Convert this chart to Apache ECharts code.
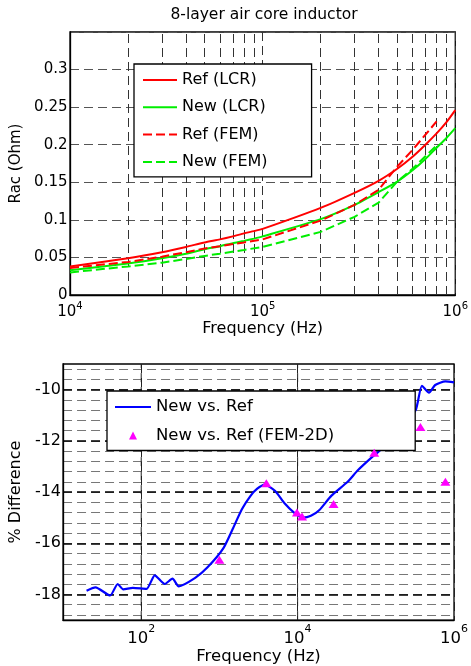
<!DOCTYPE html>
<html>
<head>
<meta charset="utf-8">
<script src="https://cdn.jsdelivr.net/npm/echarts@6/dist/echarts.min.js"></script>
<style>
html, body { margin: 0; padding: 0; background: #fff; }
#chart { width: 471px; height: 666px; }
</style>
</head>
<body>
<div id="chart"></div>
<script>
// ---- Upper panel: AC resistance of the 8-layer air core inductor ----
const freqLCR = [1e4, 2e4, 3e4, 4e4, 5e4, 6e4, 7e4, 8e4, 9e4, 1e5, 2e5, 3e5, 4e5, 5e5, 6e5, 7e5, 8e5, 9e5, 1e6];
const refLCR  = [0.038, 0.049, 0.057, 0.064, 0.070, 0.074, 0.078, 0.082, 0.085, 0.088, 0.116, 0.136, 0.152, 0.168, 0.184, 0.200, 0.215, 0.230, 0.246];
const newLCR  = [0.033, 0.042, 0.049, 0.055, 0.061, 0.065, 0.069, 0.072, 0.075, 0.078, 0.101, 0.120, 0.137, 0.151, 0.166, 0.181, 0.196, 0.209, 0.222];
const freqFEM = [1e4, 2e4, 3e4, 4e4, 5e4, 6e4, 8e4, 1e5, 2e5, 3e5, 4e5, 5e5, 6e5, 8e5];
const refFEM  = [0.036, 0.044, 0.051, 0.057, 0.062, 0.065, 0.070, 0.074, 0.099, 0.120, 0.140, 0.171, 0.193, 0.231];
const newFEM  = [0.030, 0.038, 0.043, 0.048, 0.052, 0.055, 0.060, 0.064, 0.084, 0.104, 0.123, 0.151, 0.168, 0.199];

// ---- Lower panel: percentage difference New vs. Ref ----
const freqDiff = [20, 26, 40, 50, 59, 78, 117, 149, 200, 251, 302, 490, 700, 1120, 1500, 1930, 2500, 3020, 3800,
                  5130, 6850, 9000, 11700, 14800, 19000, 26900, 43600, 58900, 95500, 115000, 158000, 224000,
                  324000, 389000, 479000, 575000, 776000, 1000000];
const pctDiff  = [-17.85, -17.72, -18.04, -17.59, -17.80, -17.74, -17.78, -17.25, -17.59, -17.38, -17.68, -17.35, -16.95,
                  -16.20, -15.40, -14.68, -14.15, -13.88, -13.71, -13.95, -14.45, -14.80, -15.00, -14.93, -14.70,
                  -14.15, -13.60, -13.15, -12.56, -12.36, -11.95, -11.40, -10.80, -9.85, -10.12, -9.82, -9.68, -9.72];
const freqFEM2D = [1000, 3980, 9800, 11400, 28800, 95500, 372000, 776000];
const pctFEM2D  = [-16.64, -13.66, -14.80, -14.95, -14.47, -12.47, -11.46, -13.60];

const FONT = 'DejaVu Sans';
const pairs = (xs, ys) => xs.map((x, i) => [x, ys[i]]);

// axis ranges
const LOWER_X = [10, 1e6];
const LOWER_Y = [-19, -9];

// minor decade grid lines (2..9 x 10^k) for the upper log axis
const minorFreq = [];
[1e4, 1e5].forEach(d => { for (let m = 2; m <= 9; m++) minorFreq.push(m * d); });
// vertical grid lines of the lower panel
const lowerGridFreq = [1e2, 1e4];

const supLabel = (base, sup, padB, margin, evenOnly) => ({
  margin: margin,
  color: '#000',
  formatter: v => {
    const e = Math.round(Math.log10(v));
    if (evenOnly && e % 2 !== 0) return '';
    return '{b|10}{s|' + e + '}';
  },
  rich: {
    b: { fontFamily: FONT, fontSize: base, color: '#000', verticalAlign: 'bottom' },
    s: { fontFamily: FONT, fontSize: sup, color: '#000', verticalAlign: 'bottom', padding: [0, 0, padB, 0] }
  }
});

const gridLines = (values, key, color) => ({
  z: 1, silent: true, symbol: ['none', 'none'], animation: false,
  label: { show: false },
  lineStyle: { color: color, type: [9, 5], width: 1 },
  emphasis: { disabled: true },
  data: values.map(v => ({ [key]: v }))
});

// line-only legend entries: hide the marker that the legend adds
const lineEntry = name => ({ name: name, itemStyle: { opacity: 0 } });

const option = {
  animation: false,
  backgroundColor: '#fff',
  title: {
    text: '8-layer air core inductor',
    left: 264, top: 7, padding: 0, textAlign: 'center',
    textStyle: { fontFamily: FONT, fontSize: 15.5, fontWeight: 'normal', color: '#000' }
  },
  legend: [
    {
      data: ['Ref (LCR)', 'New (LCR)', 'Ref (FEM)', 'New (FEM)'].map(lineEntry),
      orient: 'vertical', left: 134, top: 64,
      padding: [8, 44, 7, 8], itemGap: 11.3, itemWidth: 34, itemHeight: 8,
      backgroundColor: '#fff', borderColor: '#000', borderWidth: 1.3, borderRadius: 0,
      textStyle: { fontFamily: FONT, fontSize: 16, color: '#000' },
      selectedMode: false
    },
    {
      data: [lineEntry('New vs. Ref'), 'New vs. Ref (FEM-2D)'],
      orient: 'vertical', left: 107, top: 391,
      padding: [7.5, 81, 6.5, 7], itemGap: 11.5, itemWidth: 36, itemHeight: 10,
      backgroundColor: '#fff', borderColor: '#000', borderWidth: 1.3, borderRadius: 0,
      textStyle: { fontFamily: FONT, fontSize: 16.5, color: '#000' },
      selectedMode: false
    }
  ],
  grid: [
    { left: 70, top: 32, width: 390, height: 263, show: true, borderColor: '#000', borderWidth: 1.3, backgroundColor: 'transparent' },
    { left: 63, top: 364, width: 394, height: 259, show: true, borderColor: '#000', borderWidth: 1.3, backgroundColor: 'transparent' }
  ],
  xAxis: [
    {
      gridIndex: 0, type: 'log', logBase: 10, min: 1e4, max: 1e6,
      name: 'Frequency (Hz)', nameLocation: 'middle', nameGap: 22,
      nameTextStyle: { fontFamily: FONT, fontSize: 16, color: '#000' },
      axisLine: { lineStyle: { color: '#000', width: 1.3 } },
      axisTick: { show: false },
      axisLabel: supLabel(15, 10, 9, 6, false),
      splitLine: { show: true, lineStyle: { color: '#333', type: [9, 5], width: 1 } }
    },
    {
      gridIndex: 1, type: 'log', logBase: 10, min: LOWER_X[0], max: LOWER_X[1],
      name: 'Frequency (Hz)', nameLocation: 'middle', nameGap: 24,
      nameTextStyle: { fontFamily: FONT, fontSize: 16.5, color: '#000' },
      axisLine: { lineStyle: { color: '#000', width: 1.3 } },
      axisTick: { show: false },
      axisLabel: supLabel(16.5, 11, 12.5, 3.5, true),
      splitLine: { show: false }
    },
    {
      // decade exponent scale of the lower panel: dashed lines at 10^2 and 10^4
      gridIndex: 1, type: 'value', position: 'top',
      min: Math.log10(LOWER_X[0]), max: Math.log10(LOWER_X[1]), interval: 1,
      axisLine: { show: false }, axisTick: { show: false }, axisLabel: { show: false },
      splitLine: { show: true, lineStyle: { color: ['rgba(0,0,0,0)', '#222'], type: [9, 5], width: 1 } }
    }
  ],
  yAxis: [
    {
      gridIndex: 0, type: 'value', min: 0, max: 0.35, interval: 0.05,
      name: 'Rac (Ohm)', nameLocation: 'middle', nameGap: 43,
      nameTextStyle: { fontFamily: FONT, fontSize: 15, color: '#000' },
      axisLine: { show: true, lineStyle: { color: '#000', width: 1.3 } },
      axisTick: { show: false },
      axisLabel: {
        margin: 2.5, fontFamily: FONT, fontSize: 15, color: '#000',
        formatter: v => (v > 0.34 ? '' : String(Math.round(v * 100) / 100))
      },
      splitLine: { show: true, lineStyle: { color: '#555', type: [9, 5], width: 1 } }
    },
    {
      // fine grid every 0.4 units on the lower panel
      gridIndex: 1, type: 'value', min: LOWER_Y[0], max: LOWER_Y[1], interval: 0.2, position: 'left',
      axisLine: { show: false }, axisTick: { show: false }, axisLabel: { show: false },
      splitLine: { show: true, lineStyle: { color: ['rgba(0,0,0,0)', '#777'], type: [9, 5], width: 1 } }
    },
    {
      gridIndex: 1, type: 'value', min: LOWER_Y[0], max: LOWER_Y[1], interval: 1, position: 'left',
      name: '% Difference', nameLocation: 'middle', nameGap: 34,
      nameTextStyle: { fontFamily: FONT, fontSize: 16, color: '#000' },
      axisLine: { show: true, lineStyle: { color: '#000', width: 1.3 } },
      axisTick: { show: false },
      axisLabel: {
        margin: 2, fontFamily: FONT, fontSize: 16, color: '#000',
        formatter: v => {
          const r = Math.round(v);
          return (Math.abs(v - r) < 1e-6 && r % 2 === 0) ? String(r) : '';
        }
      },
      splitLine: { show: true, lineStyle: { color: ['rgba(0,0,0,0)', '#000'], type: [9, 5], width: 1.6 } }
    }
  ],
  series: [
    {
      name: 'minor-grid', type: 'line', xAxisIndex: 0, yAxisIndex: 0, data: [], silent: true, z: 1,
      markLine: gridLines(minorFreq, 'xAxis', '#333')
    },
    {
      // vertical dashed grid lines of the lower panel, placed through its axes
      name: 'lower-grid', type: 'custom', xAxisIndex: 1, yAxisIndex: 1, z: 2, silent: true,
      data: lowerGridFreq.map(f => [f, LOWER_Y[0], LOWER_Y[1]]),
      encode: { x: 0, y: [1, 2] },
      renderItem: (params, api) => {
        const p0 = api.coord([api.value(0), api.value(1)]);
        const p1 = api.coord([api.value(0), api.value(2)]);
        return {
          type: 'line',
          shape: { x1: p0[0], y1: p0[1], x2: p1[0], y2: p1[1] },
          style: { stroke: '#222', lineWidth: 1, lineDash: [9, 5], fill: null }
        };
      }
    },
    {
      name: 'Ref (LCR)', type: 'line', xAxisIndex: 0, yAxisIndex: 0, z: 3,
      data: pairs(freqLCR, refLCR), symbol: 'none', smooth: 0.2,
      lineStyle: { color: '#ff0000', width: 2 }, itemStyle: { color: '#ff0000' }
    },
    {
      name: 'New (LCR)', type: 'line', xAxisIndex: 0, yAxisIndex: 0, z: 3,
      data: pairs(freqLCR, newLCR), symbol: 'none', smooth: 0.2,
      lineStyle: { color: '#00ee00', width: 2 }, itemStyle: { color: '#00ee00' }
    },
    {
      name: 'Ref (FEM)', type: 'line', xAxisIndex: 0, yAxisIndex: 0, z: 3,
      data: pairs(freqFEM, refFEM), symbol: 'none',
      lineStyle: { color: '#ff0000', width: 2, type: [9, 4] }, itemStyle: { color: '#ff0000' }
    },
    {
      name: 'New (FEM)', type: 'line', xAxisIndex: 0, yAxisIndex: 0, z: 3,
      data: pairs(freqFEM, newFEM), symbol: 'none',
      lineStyle: { color: '#00ee00', width: 2, type: [9, 4] }, itemStyle: { color: '#00ee00' }
    },
    {
      name: 'New vs. Ref', type: 'line', xAxisIndex: 1, yAxisIndex: 2, z: 3,
      data: pairs(freqDiff, pctDiff), symbol: 'none', smooth: 0.2,
      lineStyle: { color: '#0000ff', width: 2.2 }, itemStyle: { color: '#0000ff' }
    },
    {
      // markers only: the connecting line has zero width
      name: 'New vs. Ref (FEM-2D)', type: 'line', xAxisIndex: 1, yAxisIndex: 2, z: 4,
      data: pairs(freqFEM2D, pctFEM2D), symbol: 'triangle', symbolSize: [10, 8], showSymbol: true,
      lineStyle: { width: 0, color: '#ff00ff' },
      itemStyle: { color: '#ff00ff', opacity: 1 }
    }
  ]
};

const chart = echarts.init(document.getElementById('chart'), null, { renderer: 'canvas' });
chart.setOption(option);
</script>
</body>
</html>
